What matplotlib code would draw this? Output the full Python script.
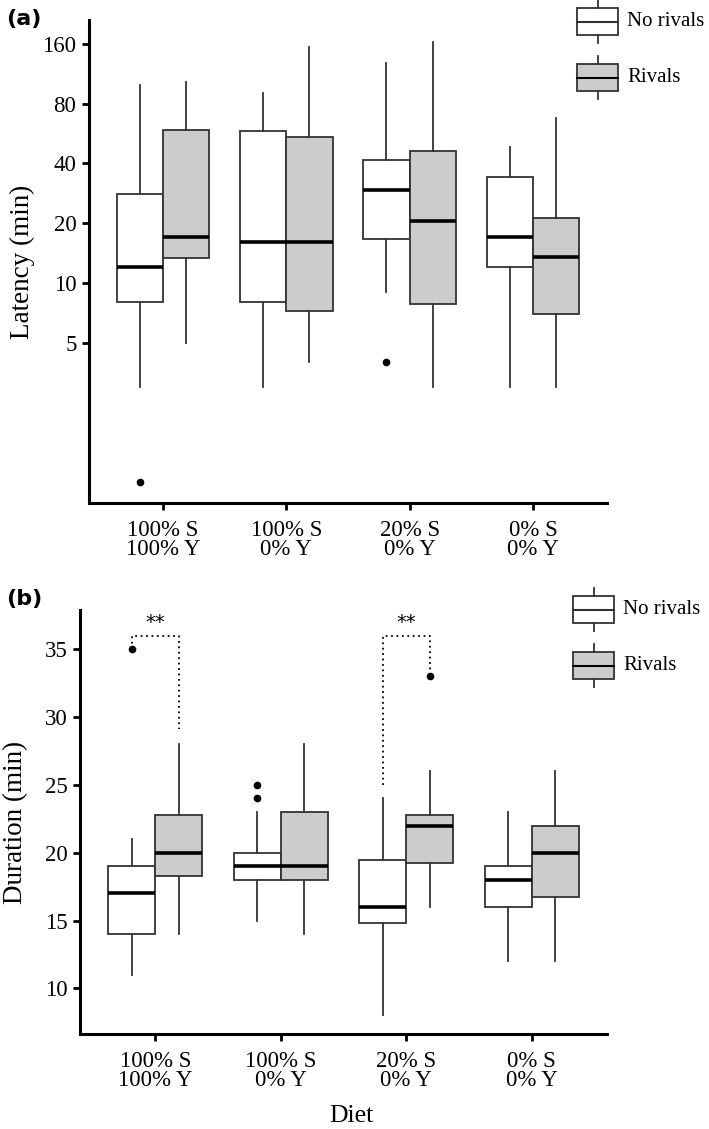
"""
Latency and duration box plots by diet, with and without rivals.
Writes out.png.
"""

import matplotlib
matplotlib.use("Agg")
import matplotlib.pyplot as plt
from matplotlib.patches import Rectangle
from matplotlib.lines import Line2D

plt.rcParams["font.family"] = ["Liberation Serif", "DejaVu Serif"]

# ---- values -------------------------------------------------------------
diets = ["100% S\n100% Y", "100% S\n0% Y", "20% S\n0% Y", "0% S\n0% Y"]
groups = ["No rivals", "Rivals"]

# (a) latency, minutes: whisker low, q1, median, q3, whisker high
lat_none = [[3.0, 8.0, 12.0, 28.0, 99.0],
            [3.0, 8.0, 16.0, 58.0, 90.0],
            [9.0, 16.7, 29.4, 41.6, 128.0],
            [3.0, 12.0, 17.0, 34.0, 48.6]]
lat_riv = [[5.0, 13.3, 17.0, 59.0, 103.0],
           [4.0, 7.2, 16.0, 54.6, 155.0],
           [3.0, 7.8, 20.6, 46.4, 164.0],
           [3.0, 7.0, 13.5, 21.3, 67.6]]
lat_out_none = [[1.0], [], [4.0], []]
lat_out_riv = [[], [], [], []]

# (b) duration, minutes
dur_none = [[11, 14, 17, 19, 21],
            [15, 18, 19, 20, 23],
            [8, 14.8, 16, 19.5, 24],
            [12, 16, 18, 19, 23]]
dur_riv = [[14, 18.25, 20, 22.75, 28],
           [14, 18, 19, 23, 28],
           [16, 19.25, 22, 22.75, 26],
           [12, 16.75, 20, 22, 26]]
dur_out_none = [[35], [24, 25], [], []]
dur_out_riv = [[], [], [33], []]

# significance brackets: group index, left end, top, right end
sig_group = [0, 2]
sig_left = [35.0, 25.0]
sig_top = [36.0, 36.0]
sig_right = [29.1, 33.5]
sig_label = ["**", "**"]

GREY = "#cccccc"
EDGE = "#333333"
W = 0.375


def stats(rows, outs):
    return [dict(whislo=r[0], q1=r[1], med=r[2], q3=r[3], whishi=r[4],
                 fliers=o) for r, o in zip(rows, outs)]


def boxes(a, none, out_none, riv, out_riv):
    pos = range(1, len(diets) + 1)
    for rows, outs, face, dx in [(none, out_none, "white", -W / 2),
                                 (riv, out_riv, GREY, W / 2)]:
        a.bxp(stats(rows, outs), positions=[p + dx for p in pos], widths=W,
              showcaps=False, patch_artist=True,
              boxprops=dict(facecolor=face, edgecolor=EDGE, lw=1.3),
              whiskerprops=dict(color=EDGE, lw=1.3),
              medianprops=dict(color="black", lw=2.6),
              flierprops=dict(marker="o", markerfacecolor="black",
                              markeredgecolor="black", markersize=4.5))
    a.set_xlim(0.4, len(diets) + 0.6)
    a.set_xticks(list(pos))
    a.set_xticklabels(diets, fontsize=16, linespacing=0.9)
    for s in ["top", "right"]:
        a.spines[s].set_visible(False)
    for s in ["left", "bottom"]:
        a.spines[s].set_linewidth(2.2)
    a.tick_params(axis="both", width=2, length=5, labelsize=16.5, pad=4)
    a.tick_params(axis="x", pad=7)


fig = plt.figure(figsize=(7.09, 11.29), dpi=100)

# ---- (a) latency, log scale ---------------------------------------------
ax1 = fig.add_axes([0.1255, 0.5545, 0.7305, 0.4278])
boxes(ax1, lat_none, lat_out_none, lat_riv, lat_out_riv)
ax1.set_yscale("log")
ax1.set_ylim(0.78, 211)
ax1.set_yticks([5, 10, 20, 40, 80, 160])
ax1.set_yticklabels(["5", "10", "20", "40", "80", "160"])
ax1.minorticks_off()
ax1.set_ylabel("Latency (min)", fontsize=19.5, va="center")
ax1.yaxis.set_label_coords(-0.128, 0.5)

# ---- (b) duration ---------------------------------------------------------
ax2 = fig.add_axes([0.1128, 0.0841, 0.7432, 0.3756])
boxes(ax2, dur_none, dur_out_none, dur_riv, dur_out_riv)
ax2.set_ylim(6.63, 37.9)
ax2.set_yticks([10, 15, 20, 25, 30, 35])
ax2.set_ylabel("Duration (min)", fontsize=19.5, va="center")
ax2.yaxis.set_label_coords(-0.123, 0.5)
ax2.set_xlabel("Diet", fontsize=18.5)
ax2.xaxis.set_label_coords(0.515, -0.168)

for g, lo, top, hi, lab in zip(sig_group, sig_left, sig_top, sig_right, sig_label):
    xl, xr = g + 1 - W / 2, g + 1 + W / 2
    ax2.plot([xl, xl, xr, xr], [lo, top, top, hi], ls=(0, (1, 2)),
             color="black", lw=1.3)
    ax2.text((xl + xr) / 2, top + 0.3, lab, ha="center", va="bottom",
             fontsize=14, family="DejaVu Sans")

# ---- panel letters --------------------------------------------------------
fig.text(0.009, 0.992, "(a)", fontsize=16, fontweight="bold",
         family="DejaVu Sans", va="top")
fig.text(0.009, 0.478, "(b)", fontsize=16, fontweight="bold",
         family="DejaVu Sans", va="top")

# ---- legends drawn as little boxplot keys (pixel coords, origin top-left) -
ov = fig.add_axes([0, 0, 1, 1], facecolor="none")
ov.set_xlim(0, 709)
ov.set_ylim(1129, 0)
ov.axis("off")


def key(x0, y0, face, label):
    w, h = 41, 27
    ov.add_patch(Rectangle((x0, y0), w, h, facecolor=face, edgecolor=EDGE, lw=1.3))
    ov.add_line(Line2D([x0, x0 + w], [y0 + h / 2] * 2,
                       color="black" if face != "white" else EDGE, lw=1.5))
    ov.add_line(Line2D([x0 + w / 2] * 2, [y0 - 8, y0], color=EDGE, lw=1.3))
    ov.add_line(Line2D([x0 + w / 2] * 2, [y0 + h, y0 + h + 8], color=EDGE, lw=1.3))
    ov.text(x0 + w + 9, y0 + h / 2, label, fontsize=15, va="center", ha="left")


for y0, face, lab in [(8, "white", groups[0]), (64, GREY, groups[1])]:
    key(577, y0, face, lab)
for y0, face, lab in [(596, "white", groups[0]), (652, GREY, groups[1])]:
    key(573, y0, face, lab)

fig.savefig("out.png", dpi=100)
